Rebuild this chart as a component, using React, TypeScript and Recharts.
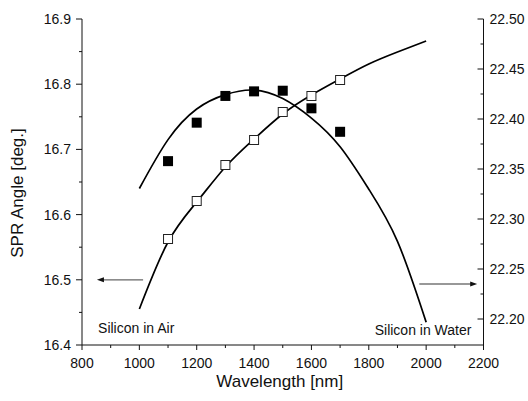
import {
  ComposedChart,
  Line,
  Scatter,
  XAxis,
  YAxis,
  ReferenceLine,
  ReferenceDot
} from "recharts";

// measured points
const wavelengths = [1100, 1200, 1300, 1400, 1500, 1600, 1700];
const airAngle = [16.682, 16.741, 16.782, 16.789, 16.79, 16.763, 16.727];
const waterAngle = [22.28, 22.318, 22.354, 22.379, 22.407, 22.423, 22.439];

// fitted curves
const fitWavelengths = [1000, 1100, 1200, 1300, 1400, 1500, 1600, 1700, 1800, 1900, 2000];
const airFit = [16.64, 16.715, 16.762, 16.784, 16.791, 16.778, 16.748, 16.704, 16.639, 16.559, 16.435];
const waterFit = [22.21, 22.277, 22.317, 22.352, 22.38, 22.405, 22.424, 22.44, 22.455, 22.467, 22.478];

const xTicks = [800, 900, 1000, 1100, 1200, 1300, 1400, 1500, 1600, 1700, 1800, 1900, 2000, 2100, 2200];
const leftTicks = [16.4, 16.45, 16.5, 16.55, 16.6, 16.65, 16.7, 16.75, 16.8, 16.85, 16.9];
const rightTicks = [22.2, 22.225, 22.25, 22.275, 22.3, 22.325, 22.35, 22.375, 22.4, 22.425, 22.45, 22.475, 22.5];

const toPoints = (xs: number[], ys: number[]) => xs.map((x, i) => ({ x, y: ys[i] }));

const airPoints = toPoints(wavelengths, airAngle);
const waterPoints = toPoints(wavelengths, waterAngle);
const airCurve = toPoints(fitWavelengths, airFit);
const waterCurve = toPoints(fitWavelengths, waterFit);

const FONT = '"Liberation Sans", Arial, sans-serif';
const INK = "#111";

const isMult = (v: number, step: number) => Math.abs(v / step - Math.round(v / step)) < 1e-6;

function BottomTick({ x, y, payload }: any) {
  const major = isMult(payload.value, 200);
  return (
    <g>
      <line x1={x} x2={x} y1={y} y2={y + (major ? 5 : 3)} stroke={INK} />
      {major && (
        <text x={x} y={y + 23} textAnchor="middle" fontSize={14} fontFamily={FONT} fill={INK}>
          {payload.value}
        </text>
      )}
    </g>
  );
}

function TopTick({ x, y, payload }: any) {
  const major = isMult(payload.value, 200);
  return <line x1={x} x2={x} y1={y} y2={y + (major ? 5 : 3)} stroke={INK} />;
}

function LeftTick({ x, y, payload }: any) {
  const major = isMult(payload.value, 0.1);
  return (
    <g>
      <line x1={x} x2={x - (major ? 6 : 3)} y1={y} y2={y} stroke={INK} />
      {major && (
        <text x={x - 11} y={y} dy="0.35em" textAnchor="end" fontSize={14} fontFamily={FONT} fill={INK}>
          {payload.value.toFixed(1)}
        </text>
      )}
    </g>
  );
}

function RightTick({ x, y, payload }: any) {
  const major = isMult(payload.value, 0.05);
  return (
    <g>
      <line x1={x} x2={x - (major ? 6 : 3)} y1={y} y2={y} stroke={INK} />
      {major && (
        <text x={x + 6} y={y} dy="0.35em" textAnchor="start" fontSize={14} fontFamily={FONT} fill={INK}>
          {payload.value.toFixed(2)}
        </text>
      )}
    </g>
  );
}

const FilledSquare = ({ cx, cy }: any) => (
  <rect x={cx - 5} y={cy - 5} width={10} height={10} fill="#000" />
);

const OpenSquare = ({ cx, cy }: any) => (
  <rect x={cx - 4.5} y={cy - 4.5} width={9} height={9} fill="#fff" stroke="#222" strokeWidth={1} />
);

const Arrow = ({ x1, y1, x2, y2, color }: any) => {
  const dir = x2 > x1 ? 1 : -1;
  return (
    <g>
      <line x1={x1} y1={y1} x2={x2 - dir * 5} y2={y2} stroke={color} strokeWidth={1.2} />
      <polygon points={`${x2},${y2} ${x2 - dir * 7},${y2 - 2.5} ${x2 - dir * 7},${y2 + 2.5}`} fill="#111" />
    </g>
  );
};

const note = (text: string, anchor: string) => ({ cx, cy }: any) => (
  <text x={cx} y={cy} textAnchor={anchor} fontSize={14} fontFamily={FONT} fill={INK}>
    {text}
  </text>
);

export default function App() {
  return (
    <div style={{ position: "absolute", left: 0, top: 0 }}>
      <ComposedChart width={528} height={401} margin={{ top: 19, right: 0, bottom: 0, left: 0 }}>
        <XAxis
          type="number"
          dataKey="x"
          domain={[800, 2200]}
          ticks={xTicks}
          interval={0}
          height={56}
          tickSize={0}
          tickMargin={0}
          tickLine={false}
          axisLine={{ stroke: INK }}
          tick={<BottomTick />}
          allowDataOverflow
          label={({ viewBox }: any) => (
            <text
              x={viewBox.x + viewBox.width / 2 - 3}
              y={viewBox.y + 42}
              textAnchor="middle"
              fontSize={17}
              fontFamily={FONT}
              fill={INK}
            >
              Wavelength [nm]
            </text>
          )}
        />
        <XAxis
          xAxisId="top"
          orientation="top"
          type="number"
          dataKey="x"
          domain={[800, 2200]}
          ticks={xTicks}
          interval={0}
          height={0}
          tickSize={0}
          tickMargin={0}
          tickLine={false}
          axisLine={{ stroke: INK }}
          tick={<TopTick />}
          allowDataOverflow
        />
        <YAxis
          yAxisId="left"
          dataKey="y"
          type="number"
          domain={[16.4, 16.9]}
          ticks={leftTicks}
          interval={0}
          width={82}
          tickSize={0}
          tickMargin={0}
          tickLine={false}
          axisLine={{ stroke: INK }}
          tick={<LeftTick />}
          allowDataOverflow
          label={({ viewBox }: any) => {
            const cx = viewBox.x + 17;
            const cy = viewBox.y + viewBox.height / 2 + 11;
            return (
              <text
                x={cx}
                y={cy}
                transform={`rotate(-90, ${cx}, ${cy})`}
                textAnchor="middle"
                dominantBaseline="central"
                fontSize={17}
                fontFamily={FONT}
                fill={INK}
              >
                SPR Angle [deg.]
              </text>
            );
          }}
        />
        <YAxis
          yAxisId="right"
          orientation="right"
          dataKey="y"
          type="number"
          domain={[22.174, 22.5]}
          ticks={rightTicks}
          interval={0}
          width={44.5}
          tickSize={0}
          tickMargin={0}
          tickLine={false}
          axisLine={{ stroke: INK }}
          tick={<RightTick />}
          allowDataOverflow
        />

        <Line
          data={airCurve}
          dataKey="y"
          yAxisId="left"
          type="natural"
          stroke="#000"
          strokeWidth={1.7}
          dot={false}
          activeDot={false}
          isAnimationActive={false}
        />
        <Line
          data={waterCurve}
          dataKey="y"
          yAxisId="right"
          type="natural"
          stroke="#000"
          strokeWidth={1.7}
          dot={false}
          activeDot={false}
          isAnimationActive={false}
        />
        <Scatter data={airPoints} dataKey="y" yAxisId="left" shape={FilledSquare} isAnimationActive={false} />
        <Scatter data={waterPoints} dataKey="y" yAxisId="right" shape={OpenSquare} isAnimationActive={false} />

        <ReferenceLine
          yAxisId="left"
          segment={[{ x: 1013, y: 16.5 }, { x: 852, y: 16.5 }]}
          shape={(p: any) => <Arrow {...p} color="#666" />}
        />
        <ReferenceLine
          yAxisId="right"
          segment={[{ x: 1976, y: 22.235 }, { x: 2178, y: 22.235 }]}
          shape={(p: any) => <Arrow {...p} color="#333" />}
        />
        <ReferenceDot yAxisId="left" x={856} y={16.418} r={0} shape={note("Silicon in Air", "start")} />
        <ReferenceDot yAxisId="left" x={2158} y={16.415} r={0} shape={note("Silicon in Water", "end")} />
      </ComposedChart>
    </div>
  );
}
